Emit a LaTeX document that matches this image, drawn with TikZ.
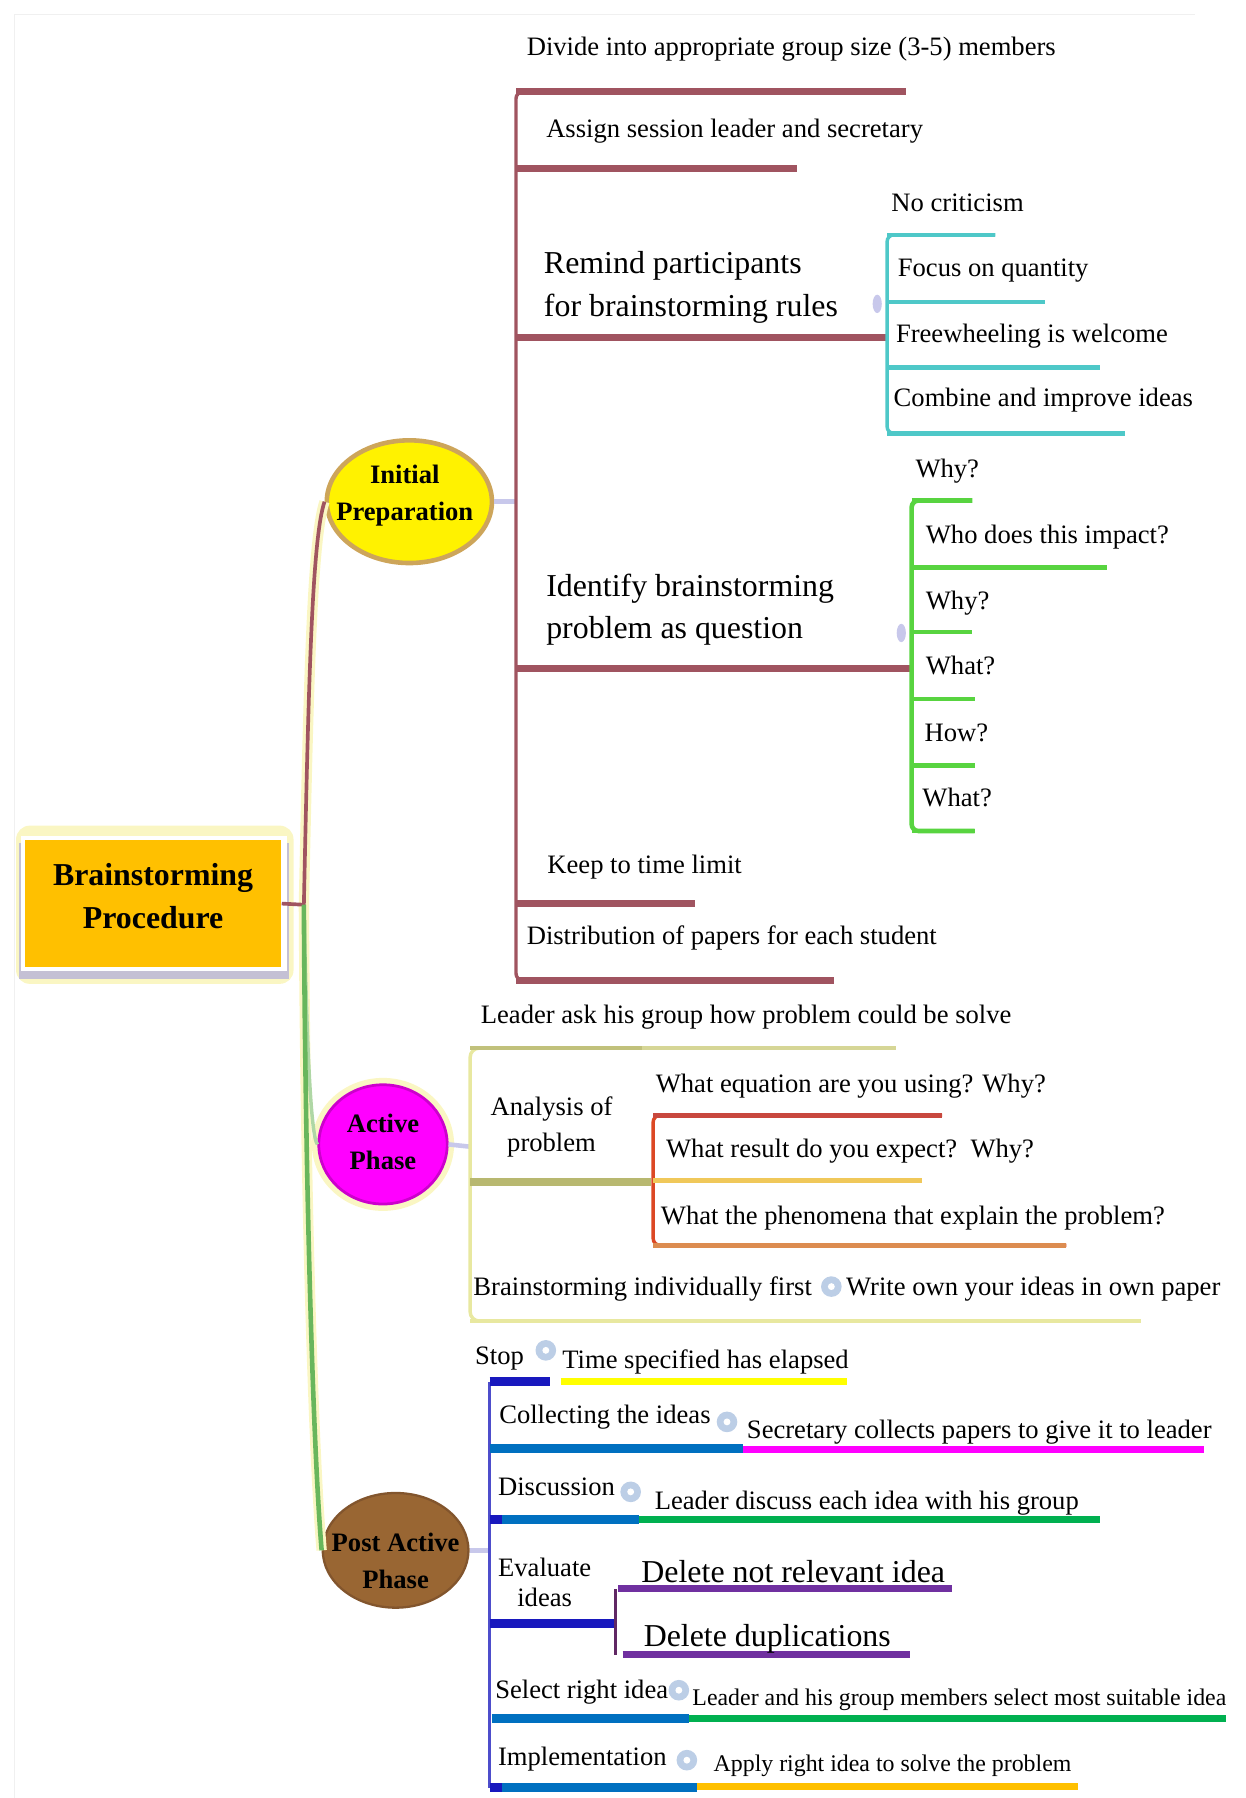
\documentclass[tikz,border=0pt]{standalone}
\usepackage{fontspec}
\setmainfont{Liberation Serif}
\usetikzlibrary{shapes.geometric}
\definecolor{cMar}{RGB}{160,84,96}
\definecolor{cCyan}{RGB}{78,200,200}
\definecolor{cQGrn}{RGB}{88,212,64}
\definecolor{cOlive}{RGB}{214,214,150}
\definecolor{cOliveL}{RGB}{232,232,160}
\definecolor{cKhaki}{RGB}{184,184,112}
\definecolor{cRed}{RGB}{220,72,36}
\definecolor{cRed1}{RGB}{200,72,62}
\definecolor{cRed2}{RGB}{240,200,90}
\definecolor{cRed3}{RGB}{220,140,80}
\definecolor{cDBlue}{RGB}{24,24,190}
\definecolor{cBlue}{RGB}{0,112,192}
\definecolor{cYel}{RGB}{255,255,0}
\definecolor{cMag}{RGB}{255,0,255}
\definecolor{cGrnU}{RGB}{0,176,80}
\definecolor{cPurp}{RGB}{112,48,160}
\definecolor{cPurpD}{RGB}{96,40,100}
\definecolor{cOrg}{RGB}{255,192,0}
\definecolor{cIpB}{RGB}{205,165,90}
\definecolor{cPostF}{RGB}{153,102,51}
\definecolor{cPostB}{RGB}{130,85,45}
\definecolor{cMainGrn}{RGB}{104,182,92}
\definecolor{cMainGrnL}{RGB}{175,215,165}
\definecolor{cIcon}{RGB}{188,206,230}
\definecolor{cLav}{RGB}{200,200,235}
\definecolor{cShadow}{RGB}{196,192,212}
\definecolor{cGlow}{RGB}{250,246,195}
\newcommand\fsN{\fontsize{11.6}{14}\selectfont}
\newcommand\fsL{\fontsize{13.9}{18.5}\selectfont}
\newcommand\fsS{\fontsize{10.4}{12.5}\selectfont}
\begin{document}
\begin{tikzpicture}[x=0.5pt,y=-0.5pt,
  tN/.style={anchor=west,inner sep=0pt,text height=8.1pt,text depth=2.55pt,font=\fsN,yshift=-1pt},
  tL/.style={anchor=west,inner sep=0pt,text height=9.7pt,text depth=3.05pt,font=\fsL,yshift=-1pt},
  tS/.style={anchor=west,inner sep=0pt,text height=7.3pt,text depth=2.3pt,font=\fsS,yshift=-1pt},
  icon/.style={circle,fill=cIcon,minimum size=9pt,inner sep=0pt,
    path picture={\fill[white] (path picture bounding box.center) circle (1.5pt);}},
  phase/.style={ellipse,inner sep=0pt},
  btxt/.style={inner sep=0pt,align=center,font=\fontsize{11.6}{16}\selectfont\bfseries,yshift=-1pt},
  mspine/.style={cMar,line width=1.5pt,rounded corners=3pt},
  mbar/.style={cMar,line width=3pt},
  cbar/.style={cCyan,line width=2pt},
  qbar/.style={cQGrn,line width=2pt},
  ubar/.style={line width=3pt},
  bbar/.style={cBlue,line width=4pt},
  dbar/.style={cDBlue,line width=4pt}]
\useasboundingbox (0,0) rectangle (1086,1568);
% faint page frame
\draw[black!6,line width=0.5pt] (13,1568) -- (13,13) -- (1042,13);

% ---------- root ----------
\fill[cGlow,rounded corners=6pt] (14,720) rectangle (256,858);
\fill[cShadow] (17,735) rectangle (252,854);
\fill[white] (18,729) rectangle (250,847);
\node[rectangle,fill=cOrg,minimum width=111.8pt,minimum height=55.2pt,inner sep=0pt] (root) at (133.5,788) {};
\node[btxt,font=\fontsize{13.9}{18.5}\selectfont\bfseries] (rootT) at (133.5,779.5) {Brainstorming\\Procedure};

% ---------- phase ellipses ----------
\node[phase,fill=cGlow,minimum width=62pt,minimum height=58pt] (actG) at (334,998) {};
\node[phase,fill=cMag,draw=cMag!80!black,line width=1.2pt,minimum width=56pt,minimum height=52pt] (act) at (334,998) {};
\node[btxt] (actT) at (334,994) {Active\\Phase};
\node[phase,fill=yellow,draw=cIpB,line width=2pt,minimum width=72pt,minimum height=53.5pt] (ipre) at (357,437.5) {};
\node[btxt] (ipreT) at (353,430) {Initial\\Preparation};
\node[phase,fill=cPostF,draw=cPostB,line width=1pt,minimum width=63.5pt,minimum height=50pt] (post) at (345,1352) {};
\node[btxt] (postT) at (345,1359) {Post Active\\Phase};

% ---------- main connectors ----------
\coordinate (hub) at (265,789);
\draw[cGlow,line width=4.5pt] (hub) .. controls (269,600) and (272,470) .. (ipre.west);
\draw[cGlow,line width=4.5pt] (hub) .. controls (266,1000) and (272,1250) .. (post.west);
\draw[cMainGrnL,line width=1.5pt] (hub) .. controls (267,880) and (270,990) .. (act.west);
\draw[cMar,line width=1.6pt] (root.east) -- (hub) .. controls (269,600) and (272,470) .. (ipre.west);
\draw[cMainGrn,line width=2pt] (hub) .. controls (266,1000) and (272,1250) .. (post.west);

\coordinate (ispine) at (450,437.5);
\coordinate (aspine) at (410,1000);
\coordinate (pspine) at (427,1352);
\draw[cLav,line width=2pt] (ipre.east) -- (ispine);
\draw[cLav,line width=2pt] (act.east) -- (aspine);
\draw[cLav,line width=2pt] (post.east) -- (pspine);

% ---------- Initial preparation ----------
\draw[mspine] (790,80) -- (450,80) -- (450,855) -- (727,855);
\draw[mbar] (450,80) -- (790,80);
\draw[mbar] (450,147) -- (695,147);
\draw[mbar] (450,294.4) -- (773.6,294.4);
\draw[mbar] (450,582.6) -- (795,582.6);
\draw[mbar] (450,788) -- (606,788);
\draw[mbar] (450,855) -- (727,855);
\node[tN] (d1) at (459,41) {Divide into appropriate group size (3-5) members};
\node[tN] (d2) at (476,112) {Assign session leader and secretary};
\node[inner sep=0pt,anchor=west,align=left,font=\fsL,yshift=-1pt] (d3) at (474,248.5) {Remind participants\\for brainstorming rules};
\node[inner sep=0pt,anchor=west,align=left,font=\fsL,yshift=-1pt] (d4) at (476,529.5) {Identify brainstorming\\problem as question};
\node[tN] (d5) at (477,754) {Keep to time limit};
\node[tN] (d6) at (459,816) {Distribution of papers for each student};

% rules
\draw[cCyan,line width=1.5pt,rounded corners=3pt] (868,204.8) -- (773.6,204.8) -- (773.6,378) -- (981,378);
\draw[cbar] (773.6,204.8) -- (868,204.8);
\draw[cbar] (773.6,263.3) -- (911,263.3);
\draw[cbar] (773.6,320.5) -- (959.6,320.5);
\draw[cbar] (773.6,378) -- (981,378);
\node[ellipse,fill=cLav,minimum width=4pt,minimum height=8pt,inner sep=0pt] (m1) at (765,265) {};
\node[tN] (r1) at (777,177) {No criticism};
\node[tN] (r2) at (782.6,234) {Focus on quantity};
\node[tN] (r3) at (781,291) {Freewheeling is welcome};
\node[tN] (r4) at (779,347) {Combine and improve ideas};

% questions
\draw[cQGrn,line width=2pt,rounded corners=3pt] (848,436.5) -- (795,436.5) -- (795,724.7) -- (850,724.7);
\draw[qbar] (795,436.5) -- (848,436.5);
\draw[qbar] (795,495) -- (965,495);
\draw[qbar] (795,551.3) -- (848,551.3);
\draw[qbar] (795,609.7) -- (850,609.7);
\draw[qbar] (795,667.4) -- (850,667.4);
\draw[qbar] (795,724.7) -- (850,724.7);
\node[ellipse,fill=cLav,minimum width=4pt,minimum height=8pt,inner sep=0pt] (m2) at (786,552) {};
\node[tN] (q1) at (798,409) {Why?};
\node[tN] (q2) at (807,466.5) {Who does this impact?};
\node[tN] (q3) at (807,524) {Why?};
\node[tN] (q4) at (807,581) {What?};
\node[tN] (q5) at (806,639) {How?};
\node[tN] (q6) at (804,696) {What?};

% ---------- Active phase ----------
\draw[cOliveL,line width=1.5pt,rounded corners=4pt] (781,914) -- (410,914) -- (410,1152) -- (995,1152);
\draw[cOlive,line width=2pt] (410,914) -- (781,914);
\draw[cKhaki!70!cOlive,line width=2pt] (410,914) -- (560,914);
\draw[cOliveL,line width=1.5pt] (410,1152) -- (995,1152);
\draw[cKhaki,line width=3.5pt] (410,1030.5) -- (568,1030.5);
\node[tN] (a1) at (419,885) {Leader ask his group how problem could be solve};
\node[inner sep=0pt,align=center,font=\fontsize{11.6}{15.8}\selectfont,yshift=-1pt] (a2) at (481,981) {Analysis of\\problem};
\draw[cRed,line width=1.5pt,rounded corners=3pt] (821.7,972.6) -- (569.6,972.6) -- (569.6,1086) -- (930,1086);
\draw[cRed1,line width=2pt] (569.6,972.6) -- (821.7,972.6);
\draw[cRed2,line width=2pt] (569.6,1029.3) -- (804,1029.3);
\draw[cRed3,line width=2pt] (569.6,1086) -- (930,1086);
\node[tN] (e1) at (571.5,945) {What equation are you using? Why?};
\node[tN] (e2) at (580.5,1001.5) {What result do you expect?\ \ Why?};
\node[tN] (e3) at (576,1060) {What the phenomena that explain the problem?};
\node[tN] (a3) at (412.5,1122.4) {Brainstorming individually first};
\node[icon] (ia3) at (725,1122) {};
\node[tN] (a3b) at (737.5,1122.4) {Write own your ideas in own paper};

% ---------- Post active phase ----------
\draw[cDBlue!70!cLav,line width=1.5pt] (427,1205) -- (427,1559);
\draw[dbar] (427,1205) -- (480,1205);
\draw[ubar,cYel] (489,1204.4) -- (739,1204.4);
\draw[bbar] (427,1263.5) -- (648,1263.5);
\draw[ubar,cMag] (648,1263.7) -- (1050,1263.7);
\draw[dbar] (427,1325) -- (440,1325);
\draw[bbar] (438,1325) -- (557,1325);
\draw[ubar,cGrnU] (557,1325) -- (959.5,1325);
\draw[dbar] (427,1416) -- (537,1416);
\draw[cPurpD,line width=1.5pt] (537,1386) -- (537,1443);
\draw[ubar,cPurp] (539,1385.5) -- (830,1385.5);
\draw[ubar,cPurp] (543,1443) -- (794,1443);
\draw[bbar] (429,1499) -- (601,1499);
\draw[ubar,cGrnU] (601,1499) -- (1069,1499);
\draw[dbar] (427,1559) -- (440,1559);
\draw[bbar] (438,1559) -- (608,1559);
\draw[ubar,cOrg] (608,1558) -- (940,1558);

\node[tN] (p1) at (414,1182) {Stop};
\node[icon] (ip1) at (476,1177.6) {};
\node[tN] (p1b) at (490,1186) {Time specified has elapsed};
\node[tN] (p2) at (435,1234) {Collecting the ideas};
\node[icon] (ip2) at (634,1240) {};
\node[tN] (p2b) at (651,1247) {Secretary collects papers to give it to leader};
\node[tN] (p3) at (434,1297) {Discussion};
\node[icon] (ip3) at (550,1301) {};
\node[tN] (p3b) at (570.6,1308.5) {Leader discuss each idea with his group};
\node[inner sep=0pt,align=center,font=\fontsize{11.6}{13}\selectfont,yshift=-1pt] (p4) at (475,1378) {Evaluate\\ideas};
\node[tL] (p4a) at (559,1371) {Delete not relevant idea};
\node[tL] (p4b) at (561,1427.6) {Delete duplications};
\node[tN] (p5) at (431.5,1474) {Select right idea};
\node[icon] (ip5) at (592,1474) {};
\node[tS] (p5b) at (603.5,1480) {Leader and his group members select most suitable idea};
\node[tN] (p6) at (434,1532.4) {Implementation};
\node[icon] (ip6) at (599,1535) {};
\node[tS] (p6b) at (622,1538) {Apply right idea to solve the problem};
\end{tikzpicture}
\end{document}
